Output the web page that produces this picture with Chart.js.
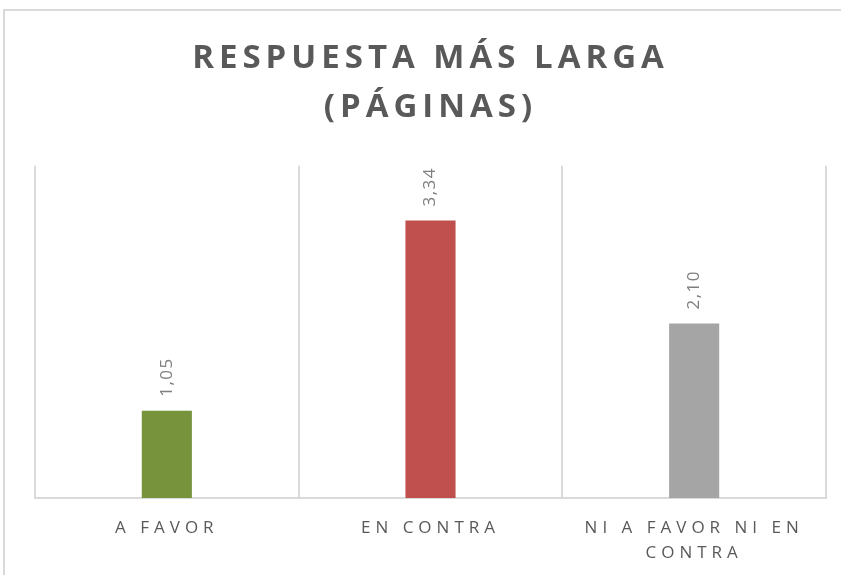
<!DOCTYPE html>
<html>
<head>
<meta charset="utf-8">
<script src="https://cdn.jsdelivr.net/npm/chart.js@4.4.0/dist/chart.umd.min.js"></script>
<style>
	html, body { margin: 0; padding: 0; background: #fff; overflow: hidden; }
	.frame { position: absolute; left: 3px; top: 9px; width: 860px; height: 600px; border: 2px solid #d9d9d9; box-sizing: border-box; }
	.wrap { position: absolute; left: 0; top: 0; width: 841px; height: 575px; }
</style>
</head>
<body>
<div class="frame"></div>
<div class="wrap"><canvas id="chart" width="841" height="575"></canvas></div>
<script>
let categories = [['A FAVOR'], ['EN CONTRA'], ['NI A FAVOR NI EN', 'CONTRA']]
let values = [1.05, 3.34, 2.10]
let barColors = ['#77933c', '#c0504d', '#a5a5a5']
let titleLines = ['RESPUESTA MÁS LARGA', '(PÁGINAS)']

let fontFamily = '"Open Sans", "Liberation Sans", sans-serif'

// letter spacing for the title and the category labels
// (canvas resets its state on resize, so set it again before layout and draw)
let spacingPlugin = {
	id: 'spacing',
	beforeUpdate: function (chart) {
		chart.ctx.letterSpacing = '5px'
	},
	beforeDraw: function (chart) {
		chart.ctx.letterSpacing = '5px'
	},
}

let valueLabels = {
	id: 'valueLabels',
	afterDatasetsDraw: function (chart) {
		let ctx = chart.ctx
		let meta = chart.getDatasetMeta(0)
		ctx.save()
		ctx.letterSpacing = '1.5px'
		ctx.font = '17px ' + fontFamily
		ctx.fillStyle = '#7f7f7f'
		ctx.textAlign = 'left'
		ctx.textBaseline = 'middle'
		meta.data.forEach(function (bar, i) {
			ctx.save()
			ctx.translate(bar.x, bar.y - 14)
			ctx.rotate(-Math.PI / 2)
			ctx.fillText(values[i].toFixed(2).replace('.', ','), 0, 0)
			ctx.restore()
		})
		ctx.restore()
	},
}

let chart = new Chart(document.getElementById('chart'), {
	type: 'bar',
	data: {
		labels: categories,
		datasets: [
			{
				data: values,
				backgroundColor: barColors,
				categoryPercentage: 1,
				barPercentage: 0.19,
			},
		],
	},
	options: {
		responsive: false,
		animation: false,
		layout: {
			padding: { left: 35, right: 15, top: 34, bottom: 0 },
		},
		scales: {
			x: {
				afterFit: function (scale) {
					scale.height = 77
				},
				grid: {
					offset: true,
					color: '#d9d9d9',
					lineWidth: 2,
					drawTicks: false,
				},
				border: { display: true, color: '#d9d9d9', width: 2 },
				ticks: {
					color: '#595959',
					font: { family: fontFamily, size: 17, lineHeight: 1.47 },
					padding: 18,
					maxRotation: 0,
				},
			},
			y: {
				display: false,
				min: 0,
				max: 4,
			},
		},
		plugins: {
			legend: { display: false },
			tooltip: { enabled: false },
			title: {
				display: true,
				text: titleLines,
				color: '#595959',
				font: { family: fontFamily, size: 33, weight: 'bold', lineHeight: 1.48 },
				padding: { top: 0, bottom: 34 },
			},
		},
	},
	plugins: [spacingPlugin, valueLabels],
})
</script>
</body>
</html>
